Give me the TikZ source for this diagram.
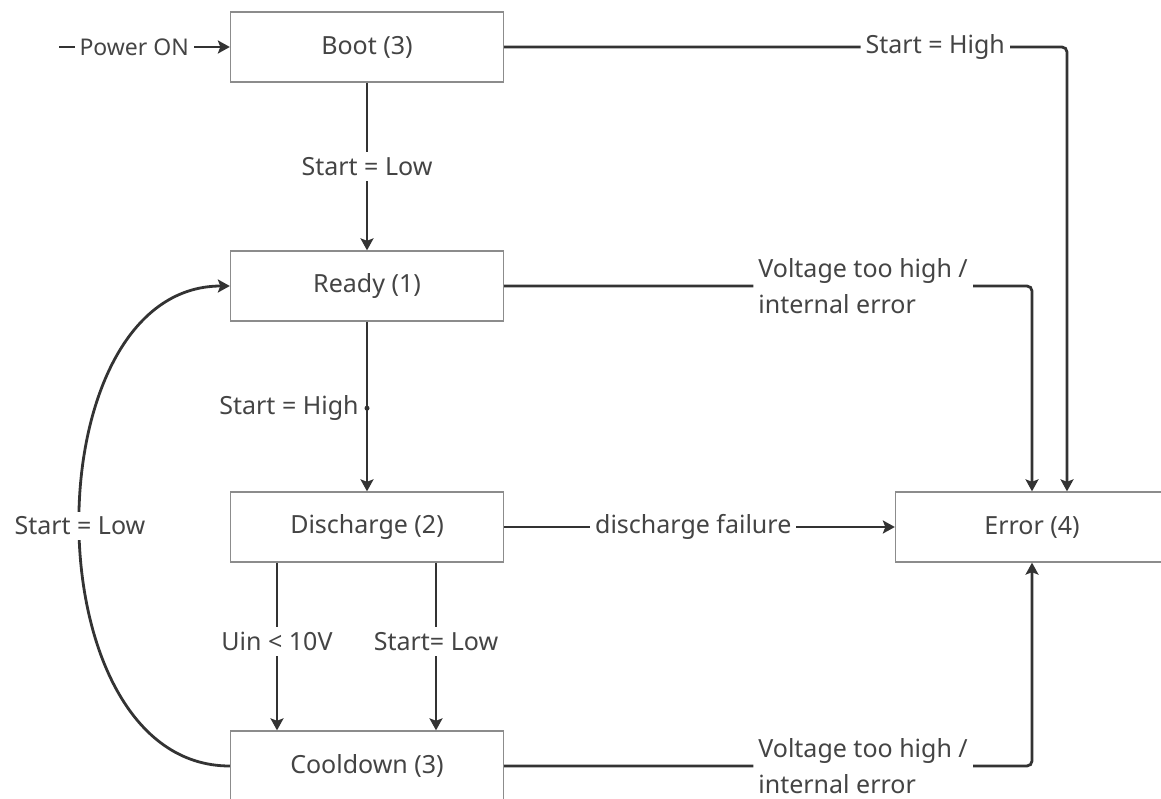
\documentclass[tikz,border=0pt]{standalone}
\usepackage{fontspec}
\setmainfont{Noto Sans}
\usetikzlibrary{arrows.meta}
\definecolor{linec}{HTML}{333333}
\definecolor{boxc}{HTML}{8C8C8C}
\definecolor{txtc}{HTML}{444444}
\begin{document}
\begin{tikzpicture}[x=1pt,y=-1pt,
  state/.style={draw=boxc, line width=1.3pt, fill=white, minimum width=273pt, minimum height=70pt, inner sep=0pt, text=txtc, font=\fontsize{25}{30}\selectfont},
  conn/.style={draw=linec, line width=2.8pt, -{Stealth[length=12pt,width=13pt,inset=2.5pt]}},
  lbl/.style={fill=white, text=txtc, inner sep=5pt, font=\fontsize{25}{30}\selectfont},
  lbl2/.style={lbl, align=left, font=\fontsize{25}{36}\selectfont}
]
\useasboundingbox (0,0) rectangle (1161,799);
\node[state] (boot) at (367,47) {Boot (3)};
\node[state] (ready) at (367,286) {Ready (1)};
\node[state] (dis) at (367,527) {Discharge (2)};
\node[state] (cool) at (367,766) {Cooldown (3)};
\node[state] (err) at (1032,527) {Error (4)};
\coordinate (pw) at (59,47);
\coordinate (eB) at ([xshift=35pt]err.north);
% Power ON
\draw[conn] (pw) -- node[lbl,pos=0.44,inner sep=5pt,font=\fontsize{23}{28}\selectfont]{Power ON} (boot.west);
% Boot -> Ready
\draw[conn] (boot.south) -- node[lbl,pos=0.5]{Start = Low} (ready.north);
% Ready -> Discharge
\draw[conn] (ready.south) -- node[pos=0.51, circle, fill=linec, inner sep=0pt, minimum size=5pt]{} node[pos=0.51, anchor=east, inner sep=0pt, xshift=-7pt, text=txtc, font=\fontsize{25}{30}\selectfont]{Start = High} (dis.north);
% Boot -> Error
\draw[conn, rounded corners=5pt] (boot.east) -- node[lbl,pos=0.766]{Start = High} (boot.east -| eB) -- (eB);
% Ready -> Error
\draw[conn, rounded corners=5pt] (ready.east) -- node[lbl2,pos=0.68]{Voltage too high /\\internal error} (ready.east -| err.north) -- (err.north);
% Discharge -> Error
\draw[conn] (dis.east) -- node[lbl,pos=0.484]{discharge failure} (err.west);
% Discharge -> Cooldown
\draw[conn] ([xshift=-90pt]dis.south) -- node[lbl,pos=0.47]{Uin < 10V} ([xshift=-90pt]cool.north);
\draw[conn] ([xshift=69pt]dis.south) -- node[lbl,pos=0.47]{Start= Low} ([xshift=69pt]cool.north);
% Cooldown -> Error
\draw[conn, rounded corners=5pt] (cool.east) -- node[lbl2,pos=0.68]{Voltage too high /\\internal error} (cool.east -| err.south) -- (err.south);
% Cooldown -> Ready
\draw[conn] (cool.west) .. controls (30,766) and (30,286) .. node[lbl,pos=0.5]{Start = Low} (ready.west);
\end{tikzpicture}
\end{document}
